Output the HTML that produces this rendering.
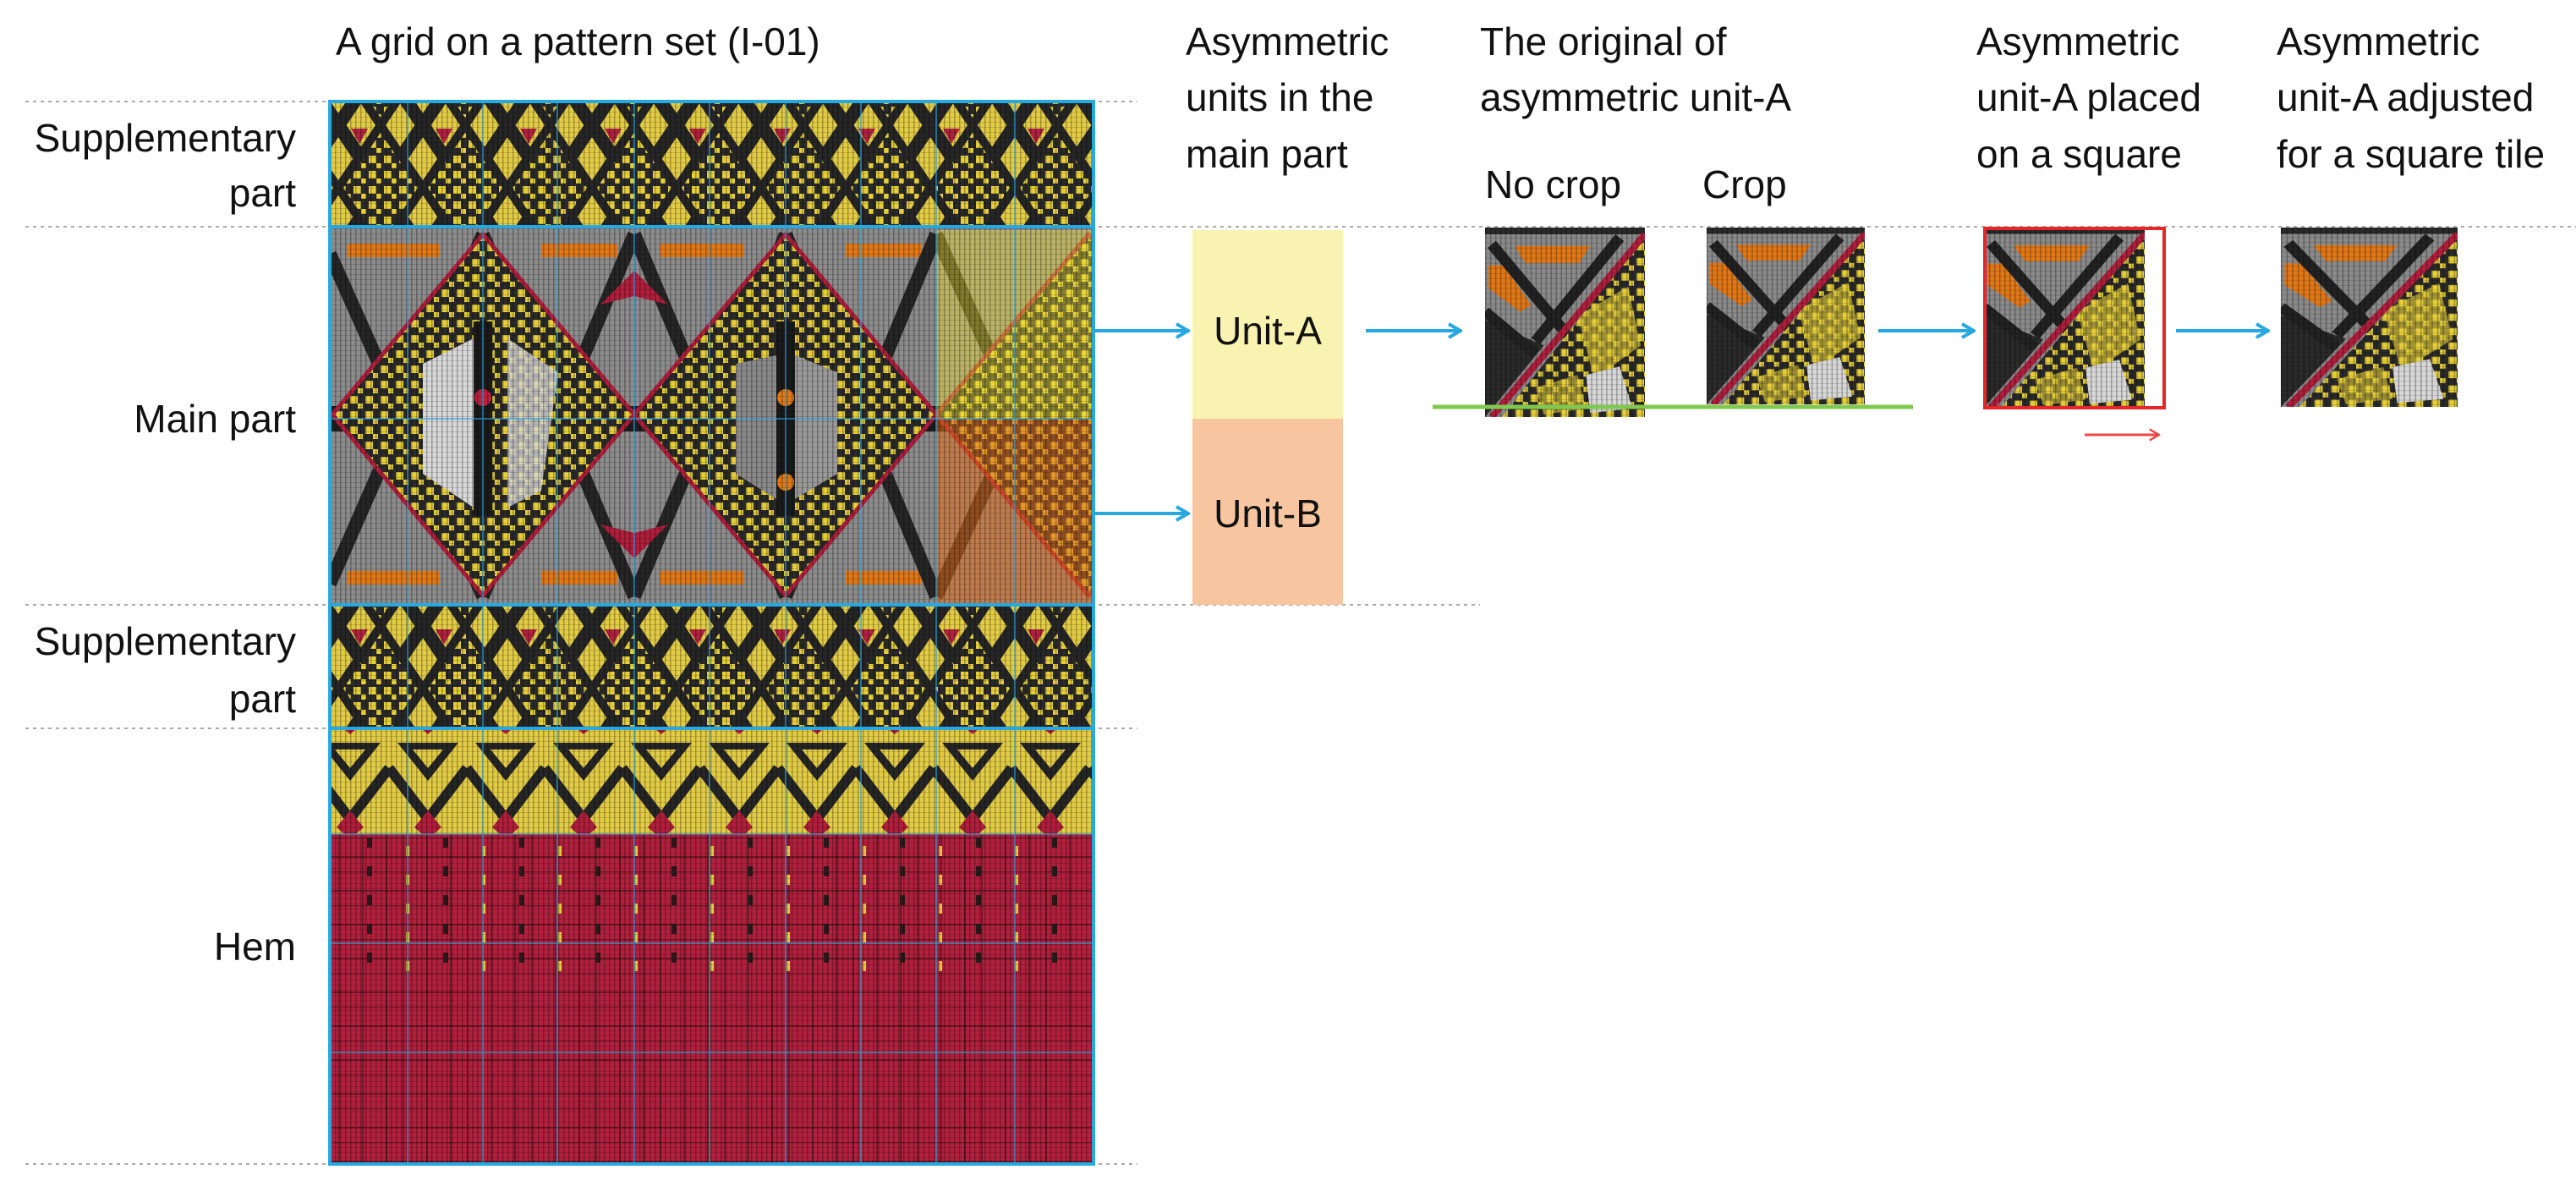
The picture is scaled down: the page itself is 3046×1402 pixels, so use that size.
<!DOCTYPE html>
<html><head><meta charset="utf-8"><style>
html,body{margin:0;padding:0;background:#fff;}
svg{display:block;}
text{font-family:"Liberation Sans",Arial,sans-serif;font-size:46px;fill:#111;}
</style></head><body>
<svg width="3046" height="1402" viewBox="0 0 3046 1402" xmlns="http://www.w3.org/2000/svg">
<defs>
  <clipPath id="mainclip"><rect x="390" y="268" width="903" height="447"/></clipPath>
  <pattern id="tex" width="6" height="6" patternUnits="userSpaceOnUse">
    <rect width="6" height="6" fill="none"/>
    <rect x="0" y="0" width="1.5" height="6" fill="#000" opacity="0.28"/>
    <rect x="0" y="0" width="6" height="1" fill="#000" opacity="0.15"/>
  </pattern>
  <pattern id="yb" width="18" height="18" patternUnits="userSpaceOnUse">
    <rect width="18" height="18" fill="#2a2a2a"/>
    <rect x="0" y="0" width="9" height="9" fill="#e6cf3a"/>
    <rect x="9" y="9" width="6" height="6" fill="#e6cf3a"/>
  </pattern>
  <pattern id="supp" width="100" height="148" patternUnits="userSpaceOnUse">
    <rect width="100" height="148" fill="#e3cc45"/>
    <path d="M0 0 L50 74 L100 0 M0 148 L50 74 L100 148" stroke="#262626" stroke-width="16" fill="none"/>
    <path d="M50 0 L0 74 L50 148 L100 74 Z" stroke="#262626" stroke-width="10" fill="url(#yb)"/>
    <polygon points="15,4 35,4 25,22" fill="#b02040"/>
  </pattern>
  <pattern id="hemtop" width="92" height="124" patternUnits="userSpaceOnUse">
    <rect width="92" height="124" fill="#e3cc45"/>
    <polygon points="10,10 82,10 46,55" fill="#262626"/>
    <polygon points="28,18 64,18 46,40" fill="#e3cc45"/>
    <path d="M0 40 L46 100 L92 40" stroke="#262626" stroke-width="12" fill="none"/>
    <polygon points="46,90 62,110 46,124 30,110" fill="#b01e3c"/>
  </pattern>
  <pattern id="hem" width="76" height="40" patternUnits="userSpaceOnUse">
    <rect width="76" height="40" fill="#b3203e"/>
    <rect x="0" y="0" width="2" height="40" fill="#3a1018" opacity="0.6"/>
    <rect x="20" y="0" width="2" height="40" fill="#3a1018" opacity="0.5"/>
    <rect x="48" y="0" width="2" height="40" fill="#3a1018" opacity="0.5"/>
    <rect x="0" y="12" width="76" height="2" fill="#2a0a10" opacity="0.5"/>
    <rect x="0" y="30" width="76" height="1.5" fill="#2a0a10" opacity="0.4"/>
  </pattern>
  <symbol id="thumb" viewBox="0 0 190 225" preserveAspectRatio="none">
    <rect width="190" height="225" fill="#8a8a8a"/>
    <rect width="190" height="8" fill="#2a2a2a"/>
    <polygon points="35,22 125,22 112,42 48,42" fill="#e07818"/>
    <polygon points="4,45 22,45 55,92 42,100 4,72" fill="#e07818"/>
    <polygon points="0,110 70,140 0,225" fill="#2a2a2a"/>
    <path d="M8 20 L100 130 M160 12 L60 135 M0 100 L60 150" stroke="#222" stroke-width="13" fill="none"/>
    <polygon points="190,10 190,225 20,225" fill="url(#yb)"/>
    <polygon points="110,105 170,70 185,140 130,180" fill="#e6cf3a" opacity="0.65"/>
    <polygon points="60,190 110,175 120,215 70,222" fill="#e6cf3a" opacity="0.6"/>
    <polygon points="120,175 160,165 175,215 125,220" fill="#d8d8d8"/>
    <path d="M8 225 L190 8" stroke="#b01e3c" stroke-width="8"/>
    <rect width="190" height="225" fill="url(#tex)"/>
  </symbol>
  <marker id="ab" viewBox="0 0 20 20" refX="18" refY="10" markerWidth="20" markerHeight="20" markerUnits="userSpaceOnUse" orient="auto">
    <path d="M4 2 L18 10 L4 18" stroke="#28a8e0" stroke-width="4" fill="none"/>
  </marker>
  <marker id="ar" viewBox="0 0 20 20" refX="18" refY="10" markerWidth="16" markerHeight="16" markerUnits="userSpaceOnUse" orient="auto">
    <path d="M4 2 L18 10 L4 18" stroke="#ee4444" stroke-width="3" fill="none"/>
  </marker>
</defs>

<g stroke="#aaa" stroke-width="2" stroke-dasharray="4 5">
  <line x1="30" y1="120" x2="1345" y2="120"/>
  <line x1="30" y1="268" x2="3046" y2="268"/>
  <line x1="30" y1="715" x2="1750" y2="715"/>
  <line x1="30" y1="861" x2="1345" y2="861"/>
  <line x1="30" y1="1376" x2="1345" y2="1376"/>
</g>

<text x="397" y="65">A grid on a pattern set (I-01)</text>
<text x="1402" y="65">Asymmetric</text>
<text x="1402" y="131">units in the</text>
<text x="1402" y="198">main part</text>
<text x="1750" y="65">The original of</text>
<text x="1750" y="131">asymmetric unit-A</text>
<text x="1756" y="234">No crop</text>
<text x="2013" y="234">Crop</text>
<text x="2337" y="65">Asymmetric</text>
<text x="2337" y="131">unit-A placed</text>
<text x="2337" y="198">on a square</text>
<text x="2692" y="65">Asymmetric</text>
<text x="2692" y="131">unit-A adjusted</text>
<text x="2692" y="198">for a square tile</text>

<g text-anchor="end">
  <text x="350" y="179">Supplementary</text>
  <text x="350" y="244">part</text>
  <text x="350" y="511">Main part</text>
  <text x="350" y="774">Supplementary</text>
  <text x="350" y="842">part</text>
  <text x="350" y="1135">Hem</text>
</g>

<g>
  <rect x="390" y="120" width="903" height="148" fill="url(#supp)"/>
  <g clip-path="url(#mainclip)">
  <rect x="390" y="268" width="903" height="447" fill="#8c8c8c"/>
  <g fill="#e07818">
    <rect x="410" y="288" width="110" height="16"/><rect x="640" y="288" width="90" height="16"/><rect x="780" y="288" width="100" height="16"/><rect x="1000" y="288" width="90" height="16"/>
    <rect x="410" y="675" width="110" height="16"/><rect x="640" y="675" width="90" height="16"/><rect x="780" y="675" width="100" height="16"/><rect x="1000" y="675" width="90" height="16"/>
  </g>
  <path d="M390 300 L571 705 M571 277 L750 705 M750 277 L929 705 M929 277 L1107 705 M571 277 L390 690 M750 277 L571 705 M929 277 L750 705 M1107 277 L929 705 M1107 277 L1293 690 M1107 705 L1293 300" stroke="#262626" stroke-width="16" fill="none"/>
  <rect x="390" y="480" width="903" height="30" fill="#1e1e1e"/>
  <polygon points="571,277 750,490 571,704 393,490" fill="url(#yb)" stroke="#b01e3c" stroke-width="5"/>
  <polygon points="929,277 1107,490 929,704 750,490" fill="url(#yb)" stroke="#b01e3c" stroke-width="5"/>
  <polygon points="1287,277 1466,490 1287,704 1107,490" fill="url(#yb)" stroke="#b01e3c" stroke-width="5"/>
  <polygon points="500,430 560,400 560,600 500,560" fill="#d8d8d8"/>
  <polygon points="600,400 660,440 640,580 600,600" fill="#d8d8d8" opacity="0.8"/>
  <rect x="560" y="380" width="22" height="230" fill="#1a1a1a"/>
  <rect x="918" y="380" width="22" height="230" fill="#1a1a1a"/>
  <polygon points="870,430 918,420 918,590 870,560" fill="#8a8a8a"/>
  <polygon points="940,420 990,440 990,560 940,590" fill="#9a9a9a"/>
  <circle cx="571" cy="470" r="10" fill="#c02040"/>
  <circle cx="929" cy="470" r="10" fill="#e07818"/>
  <circle cx="929" cy="570" r="10" fill="#e07818"/>
  <polygon points="750,320 790,360 750,350 710,360" fill="#b01e3c"/>
  <polygon points="750,660 790,620 750,630 710,620" fill="#b01e3c"/>
  <rect x="1107" y="272" width="186" height="223" fill="#f2e23a" opacity="0.45"/>
  <rect x="1107" y="495" width="186" height="220" fill="#e8701c" opacity="0.55"/>
  </g>
  <rect x="390" y="715" width="903" height="146" fill="url(#supp)"/>
  <rect x="390" y="861" width="903" height="125" fill="url(#hemtop)"/>
  <rect x="390" y="986" width="903" height="390" fill="url(#hem)"/>
  <g stroke-width="6" stroke-dasharray="12 22">
    <g stroke="#2a1a1a">
      <line x1="437" y1="990" x2="437" y2="1150"/><line x1="527" y1="990" x2="527" y2="1150"/><line x1="617" y1="990" x2="617" y2="1150"/><line x1="707" y1="990" x2="707" y2="1150"/><line x1="797" y1="990" x2="797" y2="1150"/><line x1="887" y1="990" x2="887" y2="1150"/><line x1="977" y1="990" x2="977" y2="1150"/><line x1="1067" y1="990" x2="1067" y2="1150"/><line x1="1157" y1="990" x2="1157" y2="1150"/><line x1="1247" y1="990" x2="1247" y2="1150"/>
    </g>
    <g stroke="#e6cf3a" stroke-width="4">
      <line x1="482" y1="1000" x2="482" y2="1150"/><line x1="572" y1="1000" x2="572" y2="1150"/><line x1="662" y1="1000" x2="662" y2="1150"/><line x1="752" y1="1000" x2="752" y2="1150"/><line x1="842" y1="1000" x2="842" y2="1150"/><line x1="932" y1="1000" x2="932" y2="1150"/><line x1="1022" y1="1000" x2="1022" y2="1150"/><line x1="1112" y1="1000" x2="1112" y2="1150"/><line x1="1202" y1="1000" x2="1202" y2="1150"/>
    </g>
  </g>
  <rect x="390" y="120" width="903" height="1256" fill="url(#tex)"/>
  <g stroke="#2aa0d8" stroke-width="1.5" opacity="0.8">
    <line x1="482" y1="120" x2="482" y2="1376"/><line x1="571" y1="120" x2="571" y2="1376"/><line x1="659" y1="120" x2="659" y2="1376"/><line x1="750" y1="120" x2="750" y2="1376"/><line x1="839" y1="120" x2="839" y2="1376"/><line x1="929" y1="120" x2="929" y2="1376"/><line x1="1018" y1="120" x2="1018" y2="1376"/><line x1="1107" y1="120" x2="1107" y2="1376"/><line x1="1200" y1="120" x2="1200" y2="1376"/>
    <line x1="390" y1="495" x2="1293" y2="495"/><line x1="390" y1="986" x2="1293" y2="986"/><line x1="390" y1="1115" x2="1293" y2="1115"/><line x1="390" y1="1244" x2="1293" y2="1244"/>
  </g>
  <g stroke="#28a8e0" stroke-width="4" fill="none">
    <rect x="390" y="120" width="903" height="1256"/>
    <line x1="390" y1="268" x2="1293" y2="268"/>
    <line x1="390" y1="715" x2="1293" y2="715"/>
    <line x1="390" y1="861" x2="1293" y2="861"/>
  </g>
</g>

<rect x="1410" y="272" width="178" height="223" fill="#f9f3b2"/>
<rect x="1410" y="495" width="178" height="220" fill="#f7c6a0"/>
<text x="1499" y="407" text-anchor="middle">Unit-A</text>
<text x="1499" y="623" text-anchor="middle">Unit-B</text>

<g stroke="#28a8e0" stroke-width="4" marker-end="url(#ab)">
  <line x1="1295" y1="391" x2="1405" y2="391"/>
  <line x1="1295" y1="607" x2="1405" y2="607"/>
  <line x1="1615" y1="391" x2="1727" y2="391"/>
  <line x1="2221" y1="391" x2="2334" y2="391"/>
  <line x1="2573" y1="391" x2="2682" y2="391"/>
</g>

<svg x="1756" y="269" width="189" height="224" viewBox="0 0 190 225" preserveAspectRatio="none"><use href="#thumb"/></svg>
<svg x="2018" y="269" width="187" height="209" viewBox="0 0 190 225" preserveAspectRatio="none"><use href="#thumb"/></svg>
<svg x="2346" y="269" width="190" height="213" viewBox="0 0 190 225" preserveAspectRatio="none"><use href="#thumb"/></svg>
<svg x="2697" y="269" width="209" height="212" viewBox="0 0 190 225" preserveAspectRatio="none"><use href="#thumb"/></svg>

<line x1="1694" y1="481" x2="2262" y2="481" stroke="#80c850" stroke-width="5"/>
<rect x="2347" y="270" width="212" height="212" fill="none" stroke="#e8262a" stroke-width="4"/>
<line x1="2465" y1="514" x2="2553" y2="514" stroke="#ee4444" stroke-width="3" marker-end="url(#ar)"/>
</svg>
</body></html>
